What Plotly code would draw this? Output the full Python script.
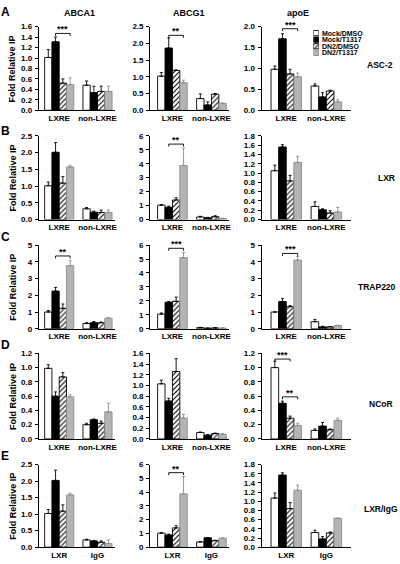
import plotly.graph_objects as go

W, H = 400, 564

# ---------------- data ----------------
groups = ["Mock/DMSO", "Mock/T1317", "DN2/DMSO", "DN2/T1317"]
genes = ["ABCA1", "ABCG1", "apoE"]
antibodies = ["ASC-2", "LXR", "TRAP220", "NCoR", "LXR/IgG"]
panel_letters = ["A", "B", "C", "D", "E"]
sites = ["LXRE", "non-LXRE"]
sites_e = ["LXR", "IgG"]

# each list: [group][site]  (groups: Mock/DMSO, Mock/T1317, DN2/DMSO, DN2/T1317)
asc2_abca1 = [[1.01, 0.48], [1.31, 0.34], [0.52, 0.36], [0.49, 0.36]]
asc2_abca1_err = [[0.15, 0.08], [0.09, 0.12], [0.08, 0.10], [0.13, 0.10]]
asc2_abcg1 = [[1.02, 0.35], [1.86, 0.16], [1.19, 0.48], [0.82, 0.21]]
asc2_abcg1_err = [[0.11, 0.14], [0.30, 0.09], [0.02, 0.02], [0.08, 0.0]]
asc2_apoe = [[0.98, 0.58], [1.71, 0.32], [0.87, 0.46], [0.80, 0.20]]
asc2_apoe_err = [[0.08, 0.05], [0.12, 0.10], [0.11, 0.02], [0.09, 0.05]]

lxr_abca1 = [[1.01, 0.32], [2.01, 0.22], [1.09, 0.21], [1.57, 0.21]]
lxr_abca1_err = [[0.11, 0.04], [0.29, 0.03], [0.19, 0.07], [0.05, 0.07]]
lxr_abcg1 = [[1.03, 0.18], [0.88, 0.12], [1.40, 0.20], [3.87, 0.06]]
lxr_abcg1_err = [[0.04, 0.05], [0.08, 0.03], [0.16, 0.07], [1.26, 0.03]]
lxr_apoe = [[1.05, 0.28], [1.56, 0.21], [0.83, 0.14], [1.23, 0.16]]
lxr_apoe_err = [[0.12, 0.10], [0.05, 0.02], [0.12, 0.05], [0.13, 0.10]]

trap_abca1 = [[1.00, 0.31], [2.25, 0.36], [1.22, 0.36], [3.77, 0.63]]
trap_abca1_err = [[0.09, 0.05], [0.22, 0.07], [0.26, 0.04], [0.29, 0.04]]
trap_abcg1 = [[1.05, 0.08], [1.90, 0.04], [1.97, 0.06], [5.10, 0.05]]
trap_abcg1_err = [[0.08, 0.02], [0.05, 0.01], [0.30, 0.02], [0.36, 0.01]]
trap_apoe = [[1.00, 0.42], [1.63, 0.11], [1.32, 0.11], [4.10, 0.19]]
trap_apoe_err = [[0.00, 0.14], [0.17, 0.04], [0.06, 0.02], [0.22, 0.02]]

ncor_abca1 = [[0.99, 0.20], [0.60, 0.27], [0.87, 0.22], [0.59, 0.38]]
ncor_abca1_err = [[0.05, 0.02], [0.06, 0.01], [0.06, 0.03], [0.03, 0.12]]
ncor_abcg1 = [[1.03, 0.12], [0.71, 0.07], [1.26, 0.10], [0.39, 0.09]]
ncor_abcg1_err = [[0.07, 0.01], [0.05, 0.01], [0.24, 0.01], [0.07, 0.01]]
ncor_apoe = [[1.00, 0.12], [0.50, 0.18], [0.29, 0.13], [0.19, 0.26]]
ncor_apoe_err = [[0.09, 0.02], [0.03, 0.05], [0.03, 0.01], [0.03, 0.03]]

lxrigg_abca1 = [[1.02, 0.22], [2.02, 0.19], [1.09, 0.15], [1.58, 0.11]]
lxrigg_abca1_err = [[0.12, 0.02], [0.31, 0.01], [0.19, 0.04], [0.05, 0.11]]
lxrigg_abcg1 = [[1.02, 0.38], [0.89, 0.68], [1.40, 0.48], [3.87, 0.65]]
lxrigg_abcg1_err = [[0.04, 0.03], [0.06, 0.02], [0.16, 0.02], [1.26, 0.01]]
lxrigg_apoe = [[1.07, 0.32], [1.57, 0.18], [0.84, 0.31], [1.24, 0.63]]
lxrigg_apoe_err = [[0.11, 0.05], [0.05, 0.05], [0.13, 0.02], [0.11, 0.0]]

panel_means = [
    [asc2_abca1, asc2_abcg1, asc2_apoe],
    [lxr_abca1, lxr_abcg1, lxr_apoe],
    [trap_abca1, trap_abcg1, trap_apoe],
    [ncor_abca1, ncor_abcg1, ncor_apoe],
    [lxrigg_abca1, lxrigg_abcg1, lxrigg_apoe],
]
panel_errs = [
    [asc2_abca1_err, asc2_abcg1_err, asc2_apoe_err],
    [lxr_abca1_err, lxr_abcg1_err, lxr_apoe_err],
    [trap_abca1_err, trap_abcg1_err, trap_apoe_err],
    [ncor_abca1_err, ncor_abcg1_err, ncor_apoe_err],
    [lxrigg_abca1_err, lxrigg_abcg1_err, lxrigg_apoe_err],
]

y_max = [[1.6, 2.5, 2.0], [2.5, 6, 1.8], [5, 6, 5], [1.2, 1.6, 1.2], [2.5, 6, 1.8]]
y_dtick = [[0.2, 0.5, 0.5], [0.5, 1, 0.2], [1, 1, 1], [0.2, 0.2, 0.2], [0.5, 1, 0.2]]

# significance brackets: (row, col, from group, to group, height, label)
sig_row = [0, 0, 0, 1, 2, 2, 2, 3, 3, 4]
sig_col = [0, 1, 2, 1, 0, 1, 2, 2, 2, 1]
sig_from = [1, 1, 1, 1, 1, 1, 1, 0, 1, 1]
sig_to = [3, 3, 3, 3, 3, 3, 3, 2, 3, 3]
sig_y = [1.47, 2.24, 1.95, 5.41, 4.35, 5.77, 4.50, 1.12, 0.59, 5.41]
sig_text = ["***", "**", "***", "**", "**", "***", "***", "***", "**", "**"]

# ---------------- layout geometry (pixels) ----------------
col_left = [39, 151, 263]
col_right = [116, 230, 353]
col_c0 = [59.5, 173.3, 287.7]     # pixel centre of first category
col_step = [38.5, 39.2, 40.3]     # pixel distance between categories
row_top = [23, 134, 245, 355, 468]
row_bot = [108, 219, 330, 442, 552]

BARGAP = 0.24
NG = len(groups)

FONT = "Arial, Liberation Sans, sans-serif"

fills = ["white", "black", "white", "#b4b4b4"]
edges = ["black", "black", "black", "#8c8c8c"]
errc = ["black", "black", "black", "#8c8c8c"]
pats = ["", "", "/", ""]


def marker(i):
    m = dict(color=fills[i], line=dict(color=edges[i], width=0.9))
    if pats[i]:
        m["pattern"] = dict(shape=pats[i], fgcolor="black", bgcolor="white",
                            size=3.5, solidity=0.3, fillmode="replace")
    return m


fig = go.Figure()
layout = dict(
    width=W, height=H, margin=dict(l=0, r=0, t=0, b=0, pad=0),
    paper_bgcolor="white", plot_bgcolor="white",
    barmode="group", bargap=BARGAP, bargroupgap=0, showlegend=False,
    font=dict(family=FONT, size=8, color="black"),
)
annotations = []
shapes = []

for r in range(5):
    cats = sites_e if r == 4 else sites
    for c in range(3):
        n = r * 3 + c + 1
        xa = "x" if n == 1 else f"x{n}"
        ya = "y" if n == 1 else f"y{n}"
        for g in range(NG):
            fig.add_trace(go.Bar(
                x=cats, y=panel_means[r][c][g], name=groups[g],
                xaxis=xa, yaxis=ya, marker=marker(g),
                error_y=dict(type="data", symmetric=False,
                             array=panel_errs[r][c][g], arrayminus=[0, 0],
                             color=errc[g], thickness=0.9, width=1.5),
                hoverinfo="skip",
            ))
        lo = (col_left[c] - col_c0[c]) / col_step[c]
        hi = (col_right[c] - col_c0[c]) / col_step[c]
        layout["xaxis" if n == 1 else f"xaxis{n}"] = dict(
            domain=[col_left[c] / W, col_right[c] / W], anchor=ya,
            type="category", range=[lo, hi],
            showline=True, linecolor="black", linewidth=1.2,
            ticks="", showgrid=False, zeroline=False,
            tickfont=dict(family=FONT, size=8, weight="bold"),
            ticklabelstandoff=0,
        )
        dt = y_dtick[r][c]
        layout["yaxis" if n == 1 else f"yaxis{n}"] = dict(
            domain=[1 - row_bot[r] / H, 1 - row_top[r] / H], anchor=xa,
            range=[0, y_max[r][c]], dtick=dt, tick0=0,
            tickformat=".1f" if dt < 1 else "d",
            showline=True, linecolor="black", linewidth=1.2,
            ticks="outside", ticklen=3, tickwidth=1, tickcolor="black",
            showgrid=False, zeroline=False,
            tickfont=dict(family=FONT, size=8, weight="bold"),
            ticklabelstandoff=1,
        )

# significance brackets
for k in range(len(sig_y)):
    r, c = sig_row[k], sig_col[k]
    n = r * 3 + c + 1
    xa = "x" if n == 1 else f"x{n}"
    ya = "y" if n == 1 else f"y{n}"
    bw = (1 - BARGAP) / NG
    x0 = -(1 - BARGAP) / 2 + bw * (sig_from[k] + 0.5)
    x1 = -(1 - BARGAP) / 2 + bw * (sig_to[k] + 0.5)
    yb = sig_y[k]
    drop = y_max[r][c] * 2.5 / (row_bot[r] - row_top[r])
    ln = dict(color="black", width=0.9)
    shapes.append(dict(type="line", xref=xa, yref=ya, x0=x0, x1=x1, y0=yb, y1=yb, line=ln))
    shapes.append(dict(type="line", xref=xa, yref=ya, x0=x0, x1=x0, y0=yb - drop, y1=yb, line=ln))
    shapes.append(dict(type="line", xref=xa, yref=ya, x0=x1, x1=x1, y0=yb - drop, y1=yb, line=ln))
    annotations.append(dict(xref=xa, yref=ya, x=(x0 + x1) / 2, y=yb, text=sig_text[k],
                            showarrow=False, yanchor="bottom", yshift=-3,
                            font=dict(family=FONT, size=9, weight="bold")))

# column titles
title_x = [80, 190, 299]
for c in range(3):
    annotations.append(dict(xref="paper", yref="paper", x=title_x[c] / W, y=1 - 9.5 / H,
                            text=genes[c], showarrow=False, xanchor="center", yanchor="middle",
                            font=dict(family=FONT, size=9, weight="bold")))

# row labels
rowlab_x = [382, 388, 379, 383, 383]
rowlab_y = [62, 177, 288, 406, 513]
for r in range(5):
    annotations.append(dict(xref="paper", yref="paper", x=rowlab_x[r] / W, y=1 - rowlab_y[r] / H,
                            text=antibodies[r], showarrow=False, xanchor="center", yanchor="middle",
                            font=dict(family=FONT, size=8.5, weight="bold")))

# panel letters and y titles
letter_y = [8, 129, 237, 347, 459]
for r in range(5):
    annotations.append(dict(xref="paper", yref="paper", x=5.5 / W, y=1 - letter_y[r] / H,
                            text=panel_letters[r], showarrow=False, xanchor="center", yanchor="middle",
                            font=dict(family=FONT, size=12, weight="bold")))
    annotations.append(dict(xref="paper", yref="paper", x=13 / W,
                            y=1 - (row_top[r] + row_bot[r]) / 2 / H,
                            text="Fold Relative IP", textangle=-90, showarrow=False,
                            xanchor="center", yanchor="middle",
                            font=dict(family=FONT, size=9, weight="bold")))

# legend (as a tiny bar axis whose tick labels are the group names)
for g in range(NG):
    fig.add_trace(go.Bar(
        x=[1], y=[groups[g]], orientation="h", width=[0.8], offset=-0.4,
        xaxis="x16", yaxis="y16", marker=marker(g), hoverinfo="skip",
    ))
layout["xaxis16"] = dict(domain=[315 / W, 320.5 / W], anchor="y16", range=[0, 1],
                         visible=False)
layout["yaxis16"] = dict(domain=[1 - 53 / H, 1 - 26.2 / H], anchor="x16",
                         type="category", categoryorder="array", categoryarray=groups,
                         tickmode="array", tickvals=groups, ticktext=groups,
                         range=[3.5, -0.5], side="right", showline=False, ticks="",
                         showgrid=False, zeroline=False, ticklabelstandoff=2,
                         tickfont=dict(family=FONT, size=7, weight="bold"))

layout["annotations"] = annotations
layout["shapes"] = shapes
fig.update_layout(**layout)
fig.write_html("out.html", config={"displayModeBar": False},
               post_script="document.body.style.margin='0';document.body.style.overflow='hidden';")
